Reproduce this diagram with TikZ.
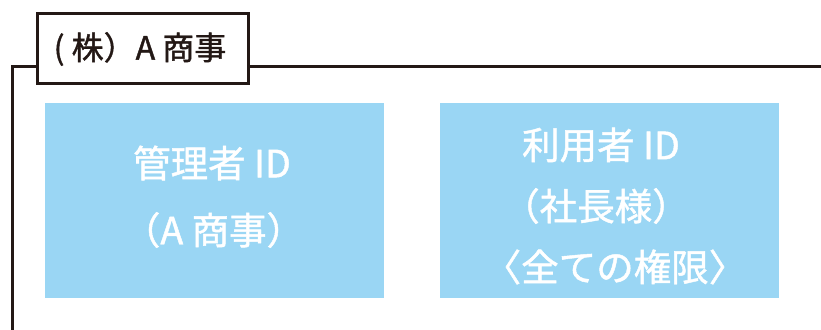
\documentclass[tikz,border=0pt]{standalone}
\usepackage{fontspec}
\newfontfamily\jpfont{Noto Sans CJK JP}[FakeBold=1.2]
\definecolor{ink}{HTML}{231815}
\definecolor{skyblue}{HTML}{9AD6F4}
\tikzset{
  idbox/.style={fill=skyblue, draw=none, minimum width=339pt, minimum height=195pt, inner sep=0pt},
  idtext/.style={text=white, font=\jpfont\fontsize{37.5}{37.5}\selectfont, inner sep=0pt, anchor=center},
  labelbox/.style={draw=ink, line width=3pt, fill=white, minimum width=211pt, minimum height=70pt, inner sep=0pt},
  frame/.style={draw=ink, line width=3pt}
}
\begin{document}
\begin{tikzpicture}[x=1pt,y=-1pt]
\useasboundingbox (0,0) rectangle (821,329);
\coordinate (topleft) at (12,66);
\coordinate (botleft) at (12,335);
\coordinate (topright) at (825,66);
\node[labelbox] (label) at (143,48.5) {};
\node[text=ink, font=\jpfont\fontsize{32}{32}\selectfont, inner sep=0pt] (labeltext) at (140,49) {( 株）A 商事};
\draw[frame] (label.west |- topleft) -- (topleft) -- (botleft);
\draw[frame] (label.east |- topright) -- (topright);
\node[idbox] (admin) at (214.5,200.5) {};
\node[idbox] (user) at (609.5,200.5) {};
\node[idtext] (a1) at (212,163) {管理者 ID};
\node[idtext] (a2) at (213.5,230) {（A 商事）};
\node[idtext] (u1) at (601,145) {利用者 ID};
\node[idtext] (u2) at (596,206) {（社長様）};
\node[idtext] (u3) at (615,267) {〈全ての権限〉};
\end{tikzpicture}
\end{document}
